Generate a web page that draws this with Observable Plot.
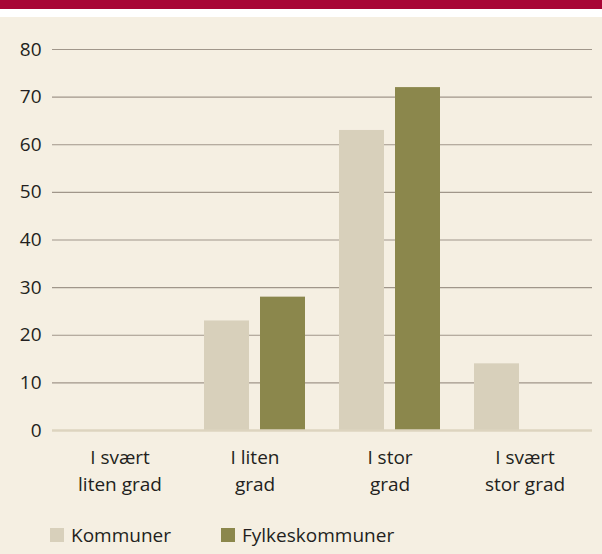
<!DOCTYPE html>
<html><head><meta charset="utf-8">
<script src="https://cdn.jsdelivr.net/npm/d3@7"></script>
<script src="https://cdn.jsdelivr.net/npm/@observablehq/plot@0.6"></script>
<style>
body{margin:0;background:#fff;font-family:"Open Sans",sans-serif;width:602px;height:554px;overflow:hidden;}
#band{height:9px;background:#a80535;}
#gap{height:8px;background:#fff;}
#panel{background:#f5efe2;height:537px;position:relative;}
#chart svg{display:block;}
#legend{position:absolute;left:50px;top:505px;display:flex;align-items:center;font-size:19px;color:#231f20;}
.item{display:flex;align-items:center;}
.sw{width:14px;height:14px;margin-right:7px;}
</style></head><body>
<div id="band"></div><div id="gap"></div>
<div id="panel"><div id="chart"></div><div id="legend"></div></div>
<script>
const categories = ["I svært\nliten grad", "I liten\ngrad", "I stor\ngrad", "I svært\nstor grad"];
const series = ["Kommuner", "Fylkeskommuner"];
const kommuner = [0, 23, 63, 14];
const fylkeskommuner = [0, 28, 72, 0];
const yTicks = [0, 10, 20, 30, 40, 50, 60, 70, 80];
const colors = ["#d8d0bb", "#8b874c"];

const data = [];
categories.forEach((c, i) => {
  data.push({cat: c, series: series[0], value: kommuner[i]});
  data.push({cat: c, series: series[1], value: fylkeskommuner[i]});
});

const chart = Plot.plot({
  width: 602, height: 500,
  marginTop: 32, marginBottom: 87, marginLeft: 52, marginRight: 10,
  style: {background: "transparent", fontFamily: "Open Sans, sans-serif", fontSize: "19px", color: "#231f20"},
  fx: {domain: categories, padding: 0, label: null, axis: null},
  x: {domain: series, paddingInner: 0.196, paddingOuter: 0.3, axis: null},
  y: {domain: [0, 80], axis: null},
  color: {domain: series, range: colors},
  marks: [
    Plot.ruleY(yTicks.filter(t => t > 0), {stroke: "#a0968a", strokeWidth: 1.2}),
    Plot.barY(data, {fx: "cat", x: "series", y: "value", fill: "series"}),
    Plot.ruleY([0], {stroke: "#ddd4bf", strokeWidth: 2.5}),
    Plot.axisY({ticks: yTicks, tickSize: 0, tickPadding: 11, fontSize: 19, fill: "#231f20", label: null}),
    Plot.axisFx({anchor: "bottom", tickSize: 0, tickPadding: 15, lineHeight: 1.4, fontSize: 19, fill: "#231f20", label: null})
  ]
});
document.getElementById("chart").appendChild(chart);

const legend = document.getElementById("legend");
series.forEach((s, i) => {
  const it = document.createElement("div");
  it.className = "item";
  it.style.marginRight = i === 0 ? "50px" : "0";
  it.innerHTML = `<div class="sw" style="background:${colors[i]}"></div><span>${s}</span>`;
  legend.appendChild(it);
});
</script>
</body></html>
